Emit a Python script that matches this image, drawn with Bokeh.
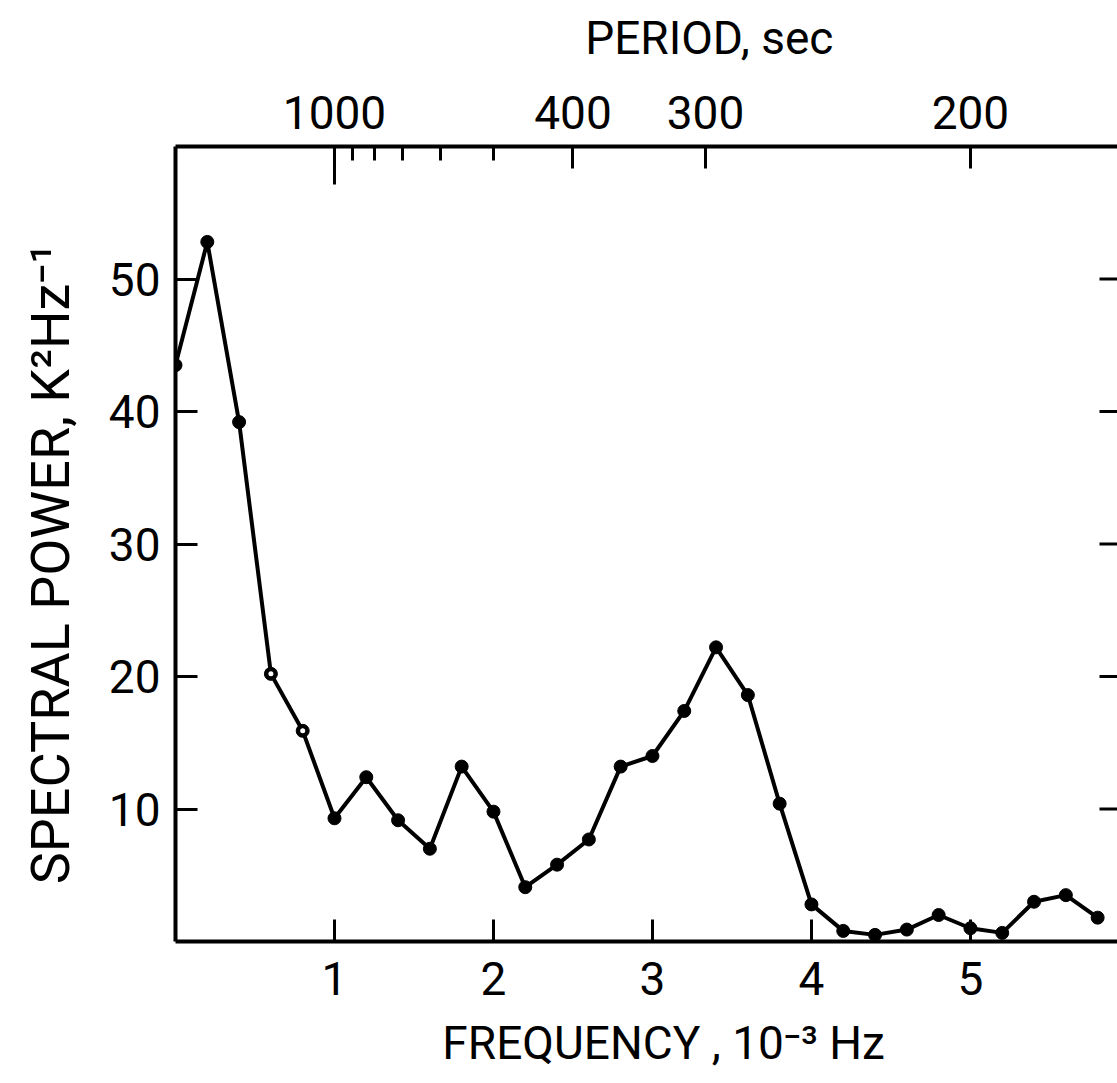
import math
from bokeh.plotting import figure
from bokeh.models import LinearAxis, FixedTicker, Range1d, CustomJSTickFormatter
from bokeh.embed import file_html
from bokeh.resources import INLINE

# ---- data ----
frequency = [0.0, 0.2, 0.4, 0.6, 0.8, 1.0, 1.2, 1.4, 1.6, 1.8,
             2.0, 2.2, 2.4, 2.6, 2.8, 3.0, 3.2, 3.4, 3.6, 3.8,
             4.0, 4.2, 4.4, 4.6, 4.8, 5.0, 5.2, 5.4, 5.6, 5.8]   # 10^-3 Hz
power = [43.5, 52.8, 39.2, 20.2, 15.9, 9.3, 12.4, 9.15, 7.0, 13.2,
         9.8, 4.1, 5.8, 7.7, 13.2, 14.0, 17.4, 22.2, 18.6, 10.4,
         2.8, 0.8, 0.5, 0.9, 2.0, 1.0, 0.65, 3.0, 3.5, 1.8]      # K^2 Hz^-1
hollow_points = [3, 4]   # indices of the points drawn as open circles

freq_ticks = [1, 2, 3, 4, 5]
power_ticks = [10, 20, 30, 40, 50]
period_major = [1000, 400, 300, 200]       # sec, labelled on top axis
period_minor = [900, 800, 700, 600, 500]   # sec, small ticks

X_END = 5.925
Y_END = 60
FONT = "Roboto"

p = figure(width=1117, height=1083,
           x_range=Range1d(0, X_END), y_range=Range1d(0, Y_END),
           output_backend="svg", toolbar_location=None,
           x_axis_location=None, y_axis_location=None,
           min_border_left=175, min_border_right=0,
           min_border_top=146, min_border_bottom=142)
p.grid.visible = False
p.outline_line_color = None
p.background_fill_color = "white"
p.border_fill_color = "white"

def style(ax, tick_in, label_px):
    ax.axis_line_color = "black"
    ax.axis_line_width = 4
    ax.major_tick_line_color = "black"
    ax.major_tick_line_width = 3
    ax.major_tick_in = tick_in
    ax.major_tick_out = 0
    ax.minor_tick_line_color = None
    ax.major_label_text_font = FONT
    ax.major_label_text_font_style = "normal"
    ax.major_label_text_font_size = label_px
    ax.major_label_text_color = "black"
    ax.axis_label_text_font = FONT
    ax.axis_label_text_font_style = "normal"
    ax.axis_label_text_color = "black"

# bottom: frequency
xb = LinearAxis(ticker=FixedTicker(ticks=freq_ticks),
                axis_label="\u00a0" * 3 + "FREQUENCY , 10\u207b\u00b3 Hz")
style(xb, 22, "46px")
xb.major_label_standoff = 20
xb.axis_label_text_font_size = "46px"
xb.axis_label_standoff = 18
p.add_layout(xb, "below")

# left: spectral power
yl = LinearAxis(ticker=FixedTicker(ticks=power_ticks),
                axis_label="SPECTRAL POWER, K\u00b2Hz\u207b\u00b9" + "\u00a0" * 3)
style(yl, 22, "46px")
yl.major_label_standoff = 15
yl.axis_label_text_font_size = "54px"
yl.axis_label_standoff = 24
p.add_layout(yl, "left")

# top: period (ticks placed at frequency = 1000 / period)
top_major = [1000.0 / s for s in period_major]
top_minor = [1000.0 / s for s in period_minor]
xt = LinearAxis(ticker=FixedTicker(ticks=top_major, minor_ticks=top_minor),
                formatter=CustomJSTickFormatter(code="return (1000/tick).toFixed(0);"),
                axis_label="\u00a0" * 11 + "PERIOD, sec")
style(xt, 22, "46px")
xt.minor_tick_line_color = "black"
xt.minor_tick_line_width = 3
xt.minor_tick_in = 14
xt.minor_tick_out = 0
xt.major_label_standoff = 18
xt.axis_label_text_font_size = "46px"
xt.axis_label_standoff = 28
p.add_layout(xt, "above")

# the 1000 s tick is drawn longer than the others (half clipped by the frame)
p.scatter([top_major[0]], [Y_END], marker="dash", angle=math.pi / 2,
          size=76, line_color="black", line_width=3)

# right-hand inward ticks at the frame edge (half clipped by the frame)
p.scatter([X_END] * len(power_ticks), power_ticks, marker="dash",
          size=36, line_color="black", line_width=3)

p.line(frequency, power, line_color="black", line_width=4)
p.scatter(frequency, power, size=13, fill_color="black", line_color="black")
p.scatter([frequency[i] for i in hollow_points], [power[i] for i in hollow_points],
          size=5, fill_color="white", line_color=None)

open("out.html", "w").write(file_html(p, INLINE))
